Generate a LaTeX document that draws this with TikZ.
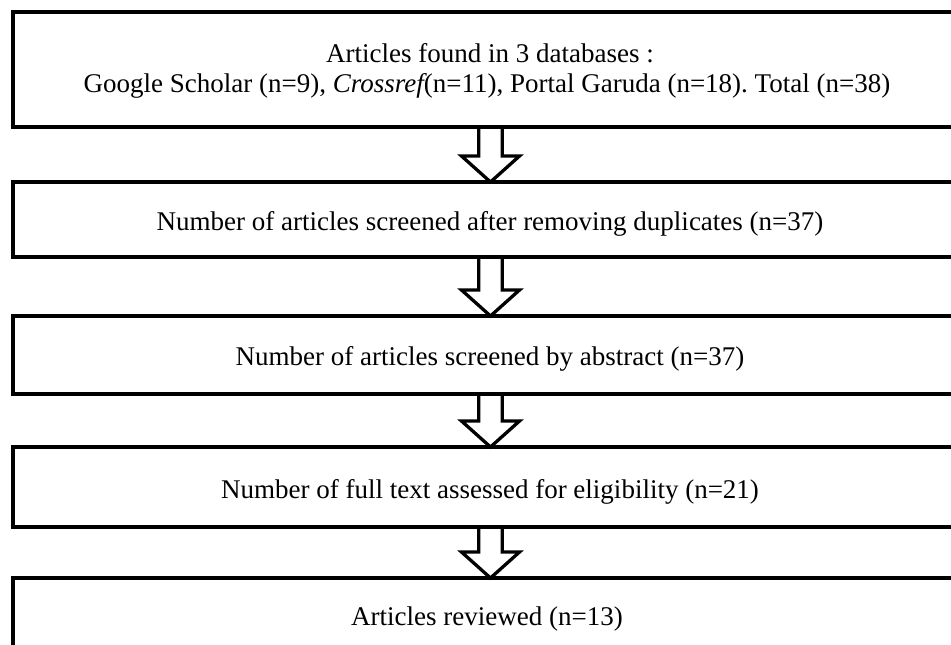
\documentclass[tikz,border=0pt]{standalone}
\usepackage{fontspec}
\setmainfont{Liberation Serif}
\usetikzlibrary{calc,backgrounds}
\frenchspacing
\begin{document}
\begin{tikzpicture}[x=1pt,y=-1pt,
  stagebox/.style={draw,rectangle,line width=4.5pt,minimum width=954pt,inner sep=0pt,outer sep=0pt},
  txt/.style={anchor=base,inner sep=0pt,outer sep=0pt,font=\fontsize{27}{30}\selectfont},
  blockarrow/.style={draw,fill=white,line width=3.3pt,miter limit=10}]
\useasboundingbox (0,0) rectangle (951,645);
\clip (0,0) rectangle (951,645);
% boxes (right edges run past the picture)
\node[stagebox,minimum height=115pt] (b1) at (490,69.5) {};
\node[stagebox,minimum height=75pt] (b2) at (490,219.5) {};
\node[stagebox,minimum height=78pt] (b3) at (490,355) {};
\node[stagebox,minimum height=80pt] (b4) at (490,487) {};
\node[stagebox,minimum height=92pt] (b5) at (490,624) {};
% texts
\node[txt] (t1a) at (490,62) {Articles found in 3 databases :};
\node[txt] (t1b) at (487,92) {Google Scholar (n=9), {\itshape Crossref}(n=11), Portal Garuda (n=18). Total (n=38)};
\node[txt] (t2) at (490,230) {Number of articles screened after removing duplicates (n=37)};
\node[txt] (t3) at (490,365) {Number of articles screened by abstract (n=37)};
\node[txt] (t4) at (490,498) {Number of full text assessed for eligibility (n=21)};
\node[txt] (t5) at (487,625) {Articles reviewed (n=13)};
% block arrows
\begin{scope}[on background layer]
\fill[white] (0,0) rectangle (951,645);
\foreach \a/\b in {b1/b2,b2/b3,b3/b4,b4/b5}{
  \path[blockarrow] let \p1=(\a.south), \p2=(\b.north) in
    (\x1-11.2pt,\y1) -- (\x1-11.2pt,\y2+26pt) -- (\x1-28.5pt,\y2+26pt) -- (\x1+0.5pt,\y2)
    -- (\x1+29.5pt,\y2+26pt) -- (\x1+12.2pt,\y2+26pt) -- (\x1+12.2pt,\y1);
}
\end{scope}
\end{tikzpicture}
\end{document}
